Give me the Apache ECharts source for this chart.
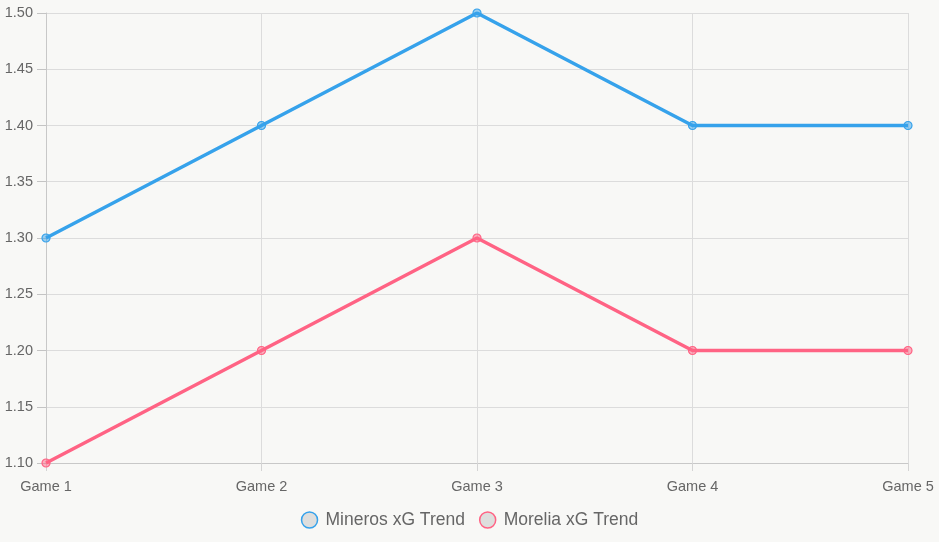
<!DOCTYPE html>
<html>
<head>
    <meta charset="utf-8">
    <title>xG Trend</title>
    <script src="https://cdn.jsdelivr.net/npm/echarts@6/dist/echarts.min.js"></script>
    <style>
        html, body { margin: 0; padding: 0; background: #f8f8f6; }
        #main { width: 939px; height: 542px; }
    </style>
</head>
<body>
<div id="main"></div>
<script type="text/javascript">
    // chart data
    var games = ['Game 1', 'Game 2', 'Game 3', 'Game 4', 'Game 5'];
    var minerosXg = [1.3, 1.4, 1.5, 1.4, 1.4];
    var moreliaXg = [1.1, 1.2, 1.3, 1.2, 1.2];
    var seriesNames = ['Mineros xG Trend', 'Morelia xG Trend'];
    var seriesColors = ['#36A2EB', '#FF6384'];
    var pointFills = ['rgba(54,162,235,0.5)', 'rgba(255,99,132,0.5)'];

    var myChart = echarts.init(document.getElementById('main'));

    function makeSeries(i, values) {
        return {
            name: seriesNames[i],
            type: 'line',
            data: values,
            symbol: 'circle',
            symbolSize: 8,
            showSymbol: true,
            lineStyle: { color: seriesColors[i], width: 3.5 },
            itemStyle: { color: pointFills[i], borderColor: seriesColors[i], borderWidth: 1.2 },
            emphasis: { disabled: true }
        };
    }

    var option = {
        backgroundColor: '#f8f8f6',
        animation: false,
        grid: { left: 46, right: 31, top: 13, bottom: 79, containLabel: false },
        legend: {
            top: 506,
            left: 'center',
            icon: 'circle',
            itemWidth: 16,
            itemHeight: 16,
            itemGap: 14,
            textStyle: { color: '#666', fontSize: 17.5, fontFamily: 'Liberation Sans, Arial', padding: [0, 0, 0, 3] },
            data: seriesNames.map(function (n, i) {
                return {
                    name: n,
                    itemStyle: { color: 'rgba(0,0,0,0.1)', borderColor: seriesColors[i], borderWidth: 1.5 }
                };
            })
        },
        xAxis: {
            type: 'category',
            data: games,
            boundaryGap: false,
            axisLine: { lineStyle: { color: '#c8c8c8' } },
            axisTick: { show: true, alignWithLabel: true, length: 8, lineStyle: { color: '#d4d4d4' } },
            axisLabel: { color: '#666', fontSize: 14.5, fontFamily: 'Liberation Sans, Arial', margin: 16 },
            splitLine: { show: true, lineStyle: { color: '#dcdcdc' } }
        },
        yAxis: {
            type: 'value',
            min: 1.1,
            max: 1.5,
            interval: 0.05,
            axisLine: { show: true, lineStyle: { color: '#c8c8c8' } },
            axisTick: { show: true, inside: false, length: 9, lineStyle: { color: '#c4c4c4', width: 1 } },
            axisLabel: {
                color: '#666', fontSize: 14.5, fontFamily: 'Liberation Sans, Arial', margin: 13,
                formatter: function (v) { return v.toFixed(2); }
            },
            splitLine: { lineStyle: { color: '#dcdcdc' } }
        },
        series: [makeSeries(0, minerosXg), makeSeries(1, moreliaXg)]
    };

    myChart.setOption(option);
</script>
</body>
</html>
